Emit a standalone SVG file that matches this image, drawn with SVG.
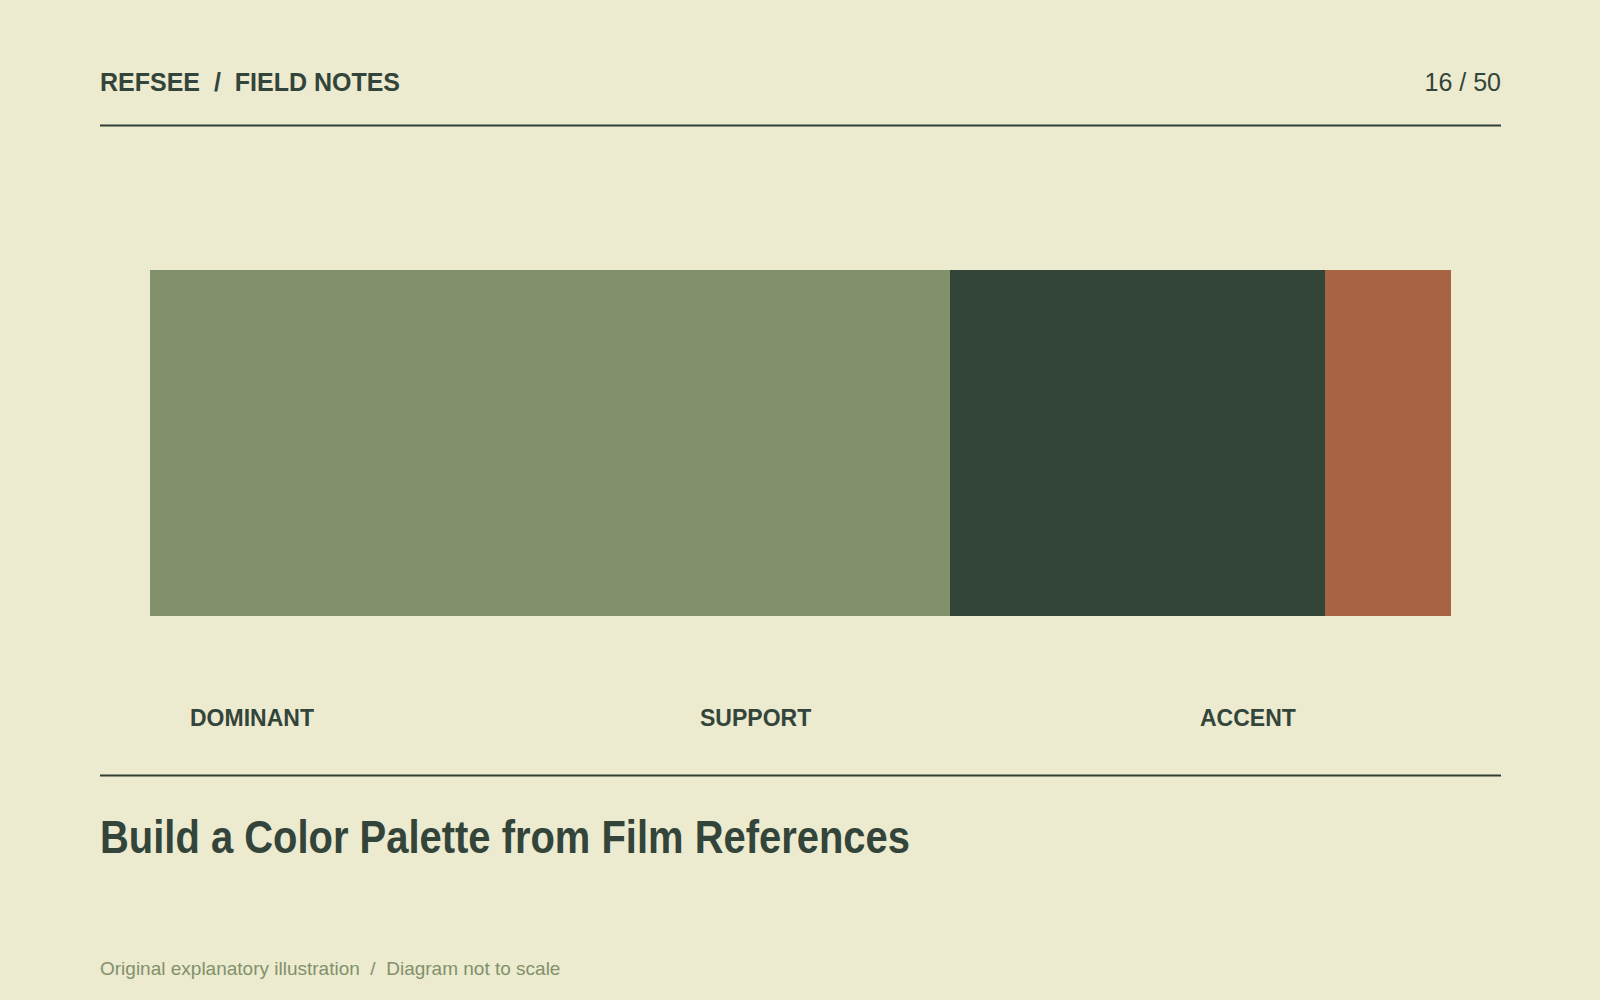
<svg xmlns="http://www.w3.org/2000/svg" width="1600" height="1000" viewBox="0 0 1600 1000">
<style>
.t{font-family:"Liberation Sans",Arial,sans-serif;fill:#33443a}
.b{font-weight:bold}
.lbl{font-size:23px;font-weight:bold}
.rule{stroke:#2f3f35;stroke-width:2}
</style>
<rect x="0" y="0" width="1600" height="1000" fill="#eceacf"/>
<g id="header">
<text class="t b" x="100" y="91" font-size="25" xml:space="preserve">REFSEE  /  FIELD NOTES</text>
<text class="t" x="1501" y="91" font-size="25" text-anchor="end">16 / 50</text>
<line class="rule" x1="100" y1="125.5" x2="1501" y2="125.5"/>
</g>
<g id="bar-dominant"><rect x="150" y="270" width="800" height="346" fill="#82916b"/></g>
<g id="bar-support"><rect x="950" y="270" width="375" height="346" fill="#334439"/></g>
<g id="bar-accent"><rect x="1325" y="270" width="126" height="346" fill="#a86442"/></g>
<g id="labels">
<text class="t lbl" x="190" y="726">DOMINANT</text>
<text class="t lbl" x="700" y="726">SUPPORT</text>
<text class="t lbl" x="1200" y="726">ACCENT</text>
</g>
<line class="rule" x1="100" y1="775.5" x2="1501" y2="775.5"/>
<text class="t b" x="100" y="853" font-size="47" textLength="810" lengthAdjust="spacingAndGlyphs">Build a Color Palette from Film References</text>
<text x="100" y="975" font-family="Liberation Sans,Arial,sans-serif" font-size="19" fill="#82916b" xml:space="preserve">Original explanatory illustration  /  Diagram not to scale</text>
</svg>
